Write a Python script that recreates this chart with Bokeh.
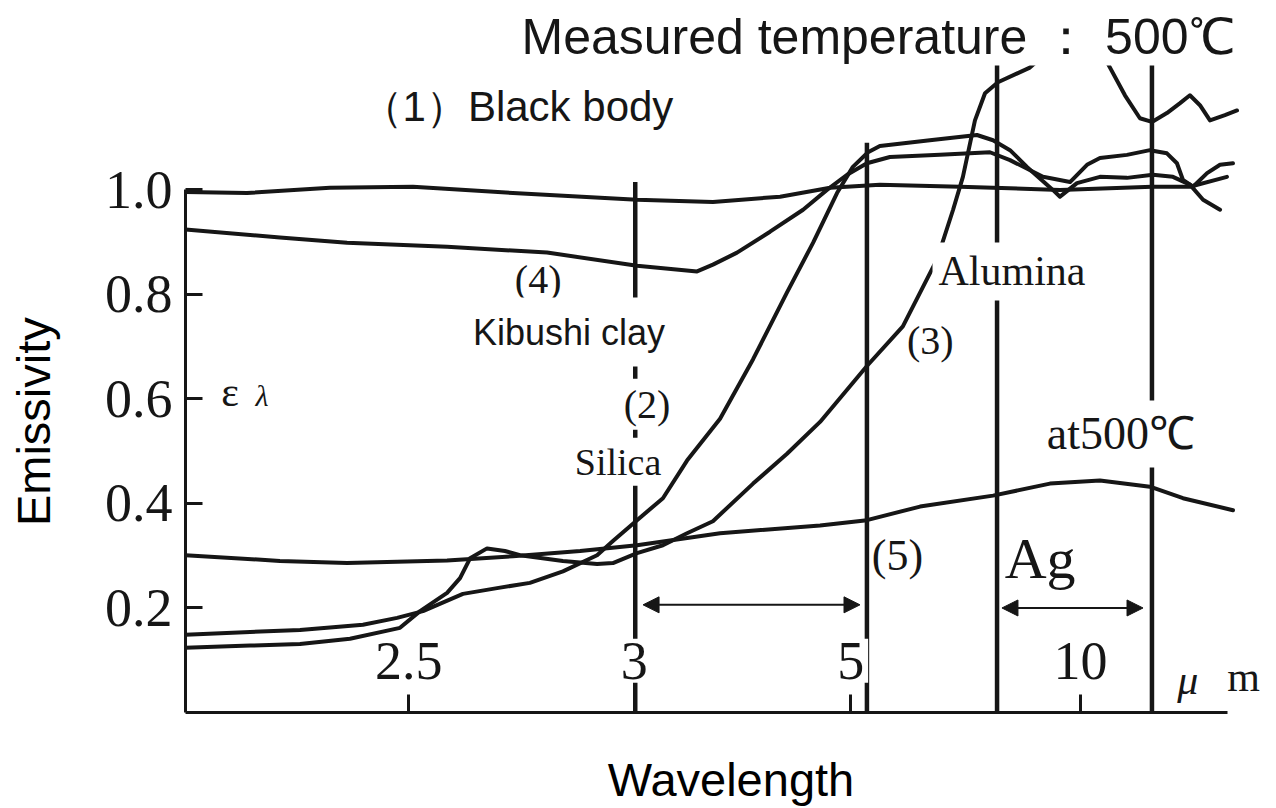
from bokeh.plotting import figure
from bokeh.models import Range1d, Label, Arrow, NormalHead, FixedTicker, Title, CustomLabelingPolicy
from bokeh.embed import file_html
from bokeh.resources import INLINE

# Wavelength scale (non-uniform): tick positions along the axis and their labels in µm
wl_tick_pos = [1.0, 2.01, 2.98, 4.01]
wl_tick_labels = ["2.5", "3", "5", "10"]

em_ticks = [0.2, 0.4, 0.6, 0.8, 1.0]
em_tick_labels = ["0.2", "0.4", "0.6", "0.8", "1.0"]

# (1) Black body
black_x = [0, 0.276, 0.647, 1.019, 1.467, 2.023, 2.363, 2.664, 2.888, 3.111, 3.470, 3.918, 4.330, 4.500, 4.666]
black_y = [0.996, 0.994, 1.004, 1.006, 0.994, 0.981, 0.977, 0.987, 1.004, 1.010, 1.006, 1.000, 1.006, 1.006, 1.025]

# (2) Silica
silica_x = [0, 0.513, 0.795, 0.948, 1.064, 1.243, 1.396, 1.543, 1.691, 1.844, 1.915, 2.023, 2.139, 2.247,
            2.395, 2.543, 2.695, 2.812, 2.919, 2.990, 3.058, 3.111, 3.335, 3.546, 3.618, 3.694, 3.770, 3.886,
            3.918, 3.994, 4.097, 4.218, 4.334, 4.424, 4.500, 4.559, 4.635]
silica_y = [0.149, 0.158, 0.168, 0.181, 0.194, 0.227, 0.238, 0.248, 0.270, 0.301, 0.328, 0.368, 0.410, 0.482,
            0.562, 0.676, 0.804, 0.899, 0.994, 1.044, 1.072, 1.084, 1.095, 1.105, 1.095, 1.076, 1.044, 1.000,
            0.987, 1.013, 1.025, 1.023, 1.029, 1.025, 1.010, 0.981, 0.962]

# (3) Alumina
alumina_x = [0, 0.289, 0.513, 0.737, 0.961, 1.051, 1.172, 1.230, 1.275, 1.351, 1.431, 1.499, 1.691, 1.844,
             1.915, 2.023, 2.139, 2.247, 2.363, 2.543, 2.695, 2.843, 3.053, 3.214, 3.367, 3.439, 3.483, 3.537,
             3.582, 3.640, 3.783, 3.918, 4.052, 4.142, 4.209, 4.276, 4.330, 4.397, 4.456, 4.500, 4.545, 4.590,
             4.657, 4.711]
alumina_y = [0.124, 0.128, 0.131, 0.141, 0.162, 0.194, 0.229, 0.257, 0.295, 0.314, 0.309, 0.301, 0.290, 0.284,
             0.286, 0.305, 0.320, 0.343, 0.366, 0.438, 0.495, 0.556, 0.663, 0.739, 0.867, 0.962, 1.025, 1.133,
             1.185, 1.206, 1.234, 1.286, 1.305, 1.234, 1.181, 1.137, 1.130, 1.147, 1.166, 1.181, 1.162, 1.133,
             1.143, 1.152]

# (4) Kibushi clay
clay_x = [0, 0.423, 0.724, 1.172, 1.620, 2.023, 2.292, 2.363, 2.471, 2.619, 2.767, 2.874, 2.964, 3.053, 3.156,
          3.380, 3.604, 3.694, 3.842, 3.963, 4.039, 4.097, 4.218, 4.321, 4.397, 4.442, 4.469, 4.514, 4.577,
          4.635, 4.693]
clay_y = [0.924, 0.909, 0.899, 0.891, 0.880, 0.855, 0.844, 0.857, 0.880, 0.920, 0.962, 1.000, 1.029, 1.051, 1.063,
          1.067, 1.072, 1.057, 1.025, 1.015, 1.048, 1.061, 1.067, 1.076, 1.070, 1.051, 1.019, 1.006, 1.032,
          1.048, 1.051]

# (5) Ag
ag_x = [0, 0.423, 0.724, 1.172, 1.467, 1.768, 2.023, 2.395, 2.843, 3.053, 3.291, 3.618, 3.873, 4.097, 4.321,
        4.469, 4.693]
ag_y = [0.301, 0.290, 0.286, 0.291, 0.299, 0.309, 0.320, 0.343, 0.358, 0.368, 0.394, 0.415, 0.438, 0.444, 0.432,
        0.410, 0.387]

# Band boundary lines and the two measurement windows
band_x = [2.015, 3.053, 3.636, 4.330]
band_top = [1.015, 1.09, 1.24, 1.24]
window_start = [2.05, 3.658]
window_end = [3.022, 4.29]
window_level = [0.206, 0.200]

INK = "#161616"
SERIF = "Liberation Serif"
SANS = "Liberation Sans"

p = figure(width=1276, height=808, x_range=Range1d(0, 4.888), y_range=Range1d(0, 1.238),
           output_backend="svg", toolbar_location=None,
           min_border_left=185, min_border_right=0, min_border_top=65, min_border_bottom=93)
p.background_fill_color = "white"
p.border_fill_color = "white"
p.outline_line_color = None
p.xgrid.visible = False
p.ygrid.visible = False

# header
p.title = Title(text="Measured temperature \uff1a 500\u2103", align="right", offset=38, standoff=2,
                text_font=SANS, text_font_size="50px", text_font_style="normal",
                text_color=INK)

# y axis
p.yaxis.ticker = FixedTicker(ticks=em_ticks)
p.yaxis.major_label_overrides = {t: s for t, s in zip(em_ticks, em_tick_labels)}
p.yaxis.bounds = (0, 1.0)
p.yaxis.major_tick_in = 17
p.yaxis.major_tick_out = 0
p.yaxis.minor_tick_in = 0
p.yaxis.minor_tick_out = 0
p.yaxis.axis_line_width = 3
p.yaxis.major_tick_line_width = 3
p.yaxis.axis_line_color = INK
p.yaxis.major_tick_line_color = INK
p.yaxis.major_label_text_font = SERIF
p.yaxis.major_label_text_font_size = "54px"
p.yaxis.major_label_text_color = INK
p.yaxis.major_label_standoff = 13
# trailing no-break spaces lower the visible title a little below the frame centre
p.yaxis.axis_label = "Emissivity" + "\u00a0" * 5
p.yaxis.axis_label_text_font = SANS
p.yaxis.axis_label_text_font_size = "47px"
p.yaxis.axis_label_text_font_style = "normal"
p.yaxis.axis_label_text_color = "black"
p.yaxis.axis_label_standoff = 42

# x axis: its tick labels are drawn inside the frame, above the ticks
p.xaxis.ticker = FixedTicker(ticks=wl_tick_pos)
p.xaxis.bounds = (0, 4.67)
p.xaxis.major_tick_in = 18
p.xaxis.major_tick_out = 0
p.xaxis.minor_tick_in = 0
p.xaxis.minor_tick_out = 0
p.xaxis.axis_line_width = 3
p.xaxis.major_tick_line_width = 3
p.xaxis.axis_line_color = INK
p.xaxis.major_tick_line_color = INK
p.xaxis.major_label_policy = CustomLabelingPolicy(code="""
    for (const i of indices) indices.unset(i)
    return indices
""")
p.xaxis.axis_label = "Wavelength"
p.xaxis.axis_label_text_font = SANS
p.xaxis.axis_label_text_font_size = "47px"
p.xaxis.axis_label_text_font_style = "normal"
p.xaxis.axis_label_text_color = "black"
p.xaxis.axis_label_standoff = 24

# band boundary lines
p.segment(x0=band_x, y0=[0] * len(band_x), x1=band_x, y1=band_top, line_color=INK, line_width=4.5)

# emissivity curves
for xs, ys in [(black_x, black_y), (silica_x, silica_y), (alumina_x, alumina_y),
               (clay_x, clay_y), (ag_x, ag_y)]:
    p.line(xs, ys, line_color=INK, line_width=4, line_join="round", line_cap="round")

# measurement windows
for xs, xe, yl in zip(window_start, window_end, window_level):
    p.add_layout(Arrow(x_start=xs, y_start=yl, x_end=xe, y_end=yl, line_color=INK, line_width=2,
                       start=NormalHead(size=16, fill_color=INK, line_color=INK),
                       end=NormalHead(size=16, fill_color=INK, line_color=INK)))


def label(x, y, text, size, font=SERIF, style="normal", bg=True, pad=2):
    kw = dict(x=x, y=y, text=text, text_font=font, text_font_size=size, text_font_style=style,
              text_color=INK, text_align="center", text_baseline="middle")
    if bg:
        kw.update(background_fill_color="white", padding=pad)
    p.add_layout(Label(**kw))


# tick labels of the wavelength scale
for tx, tl in zip(wl_tick_pos, wl_tick_labels):
    label(tx, 0.099, tl, "54px", pad=4)
label(4.49, 0.063, "\u03bc", "42px", style="italic", bg=False)
label(4.74, 0.068, "m", "42px", bg=False)

# curve annotations
label(1.485, 1.16, "\uff081\uff09Black body", "42px", font=SANS, bg=False)
label(1.58, 0.829, "(4)", "40px", bg=False)
label(1.718, 0.728, "Kibushi clay", "36px", font=SANS, pad=14)
label(2.068, 0.590, "(2)", "40px", pad=3)
label(1.938, 0.480, "Silica", "38px", pad=3)
label(3.703, 0.844, "Alumina", "42px", pad=6)
label(3.337, 0.712, "(3)", "40px", bg=False)
label(4.191, 0.533, "at500\u2103", "46px", pad=8)
label(3.19, 0.301, "(5)", "44px", bg=False)
label(3.829, 0.295, "Ag", "58px", bg=False)
label(0.20, 0.613, "\u03b5", "42px", bg=False)
label(0.343, 0.606, "\u03bb", "30px", style="italic", bg=False)

open("out.html", "w").write(file_html(p, INLINE))
